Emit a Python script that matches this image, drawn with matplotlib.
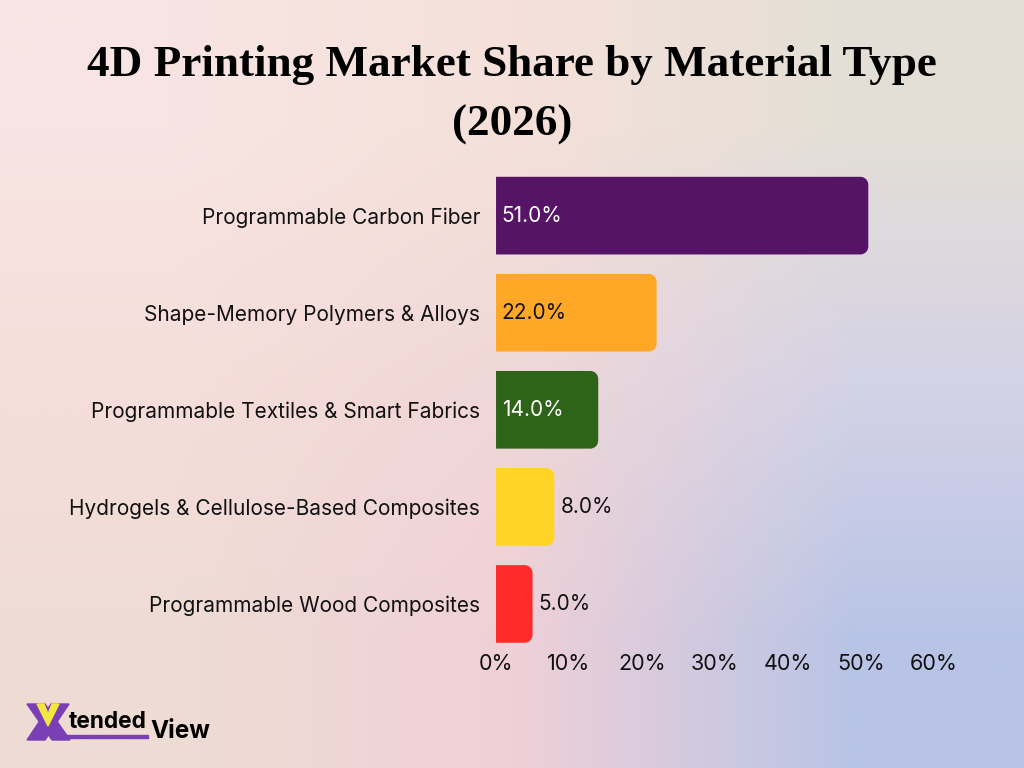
import numpy as np
import matplotlib
matplotlib.use('Agg')
import matplotlib.pyplot as plt
from matplotlib.patches import Rectangle, Polygon
from matplotlib.ticker import FuncFormatter

plt.rcParams['font.family'] = ['Inter', 'DejaVu Sans']

# Data
materials = [
    'Programmable Carbon Fiber',
    'Shape-Memory Polymers & Alloys',
    'Programmable Textiles & Smart Fabrics',
    'Hydrogels & Cellulose-Based Composites',
    'Programmable Wood Composites',
]
shares = [51.0, 22.0, 14.0, 8.0, 5.0]
bar_colors = ['#561466', '#FFA726', '#2E6418', '#FFD426', '#FF2A2A']
label_colors = ['white', '#111111', 'white', '#111111', '#111111']

fig = plt.figure(figsize=(10.24, 7.68), dpi=100)

# Background gradient (3x3 colours, bilinear)
grid = np.array([
    [[248, 229, 227], [245, 225, 218], [228, 223, 214]],
    [[246, 222, 218], [240, 215, 215], [212, 210, 230]],
    [[238, 220, 212], [240, 208, 215], [184, 196, 230]],
]) / 255.0
bg = fig.add_axes([0, 0, 1, 1], zorder=-10)
bg.imshow(grid, extent=[0, 1, 0, 1], aspect='auto', interpolation='bilinear', origin='upper')
bg.set_xlim(0, 1)
bg.set_ylim(0, 1)
bg.axis('off')

# Title
fig.text(0.5, 0.916, '4D Printing Market Share by Material Type', ha='center', va='center',
         fontsize=32.5, fontweight='bold', family='Liberation Serif', color='black')
fig.text(0.5, 0.838, '(2026)', ha='center', va='center',
         fontsize=32.5, fontweight='bold', family='Liberation Serif', color='black')

# Main chart
ax_w, ax_h = 0.4277, 0.632
ax = fig.add_axes([0.4844, 0.158, ax_w, ax_h])
ax.set_facecolor('none')
y = np.arange(len(materials))
bars = ax.barh(y, shares, height=0.8, color=bar_colors)
ax.set_xlim(0, 60)
ax.set_ylim(4.44, -0.56)

# rounded right ends
px_x = ax_w * 1024 / 60.0
px_y = ax_h * 768 / 5.0
rx, ry = 8 / px_x, 8 / px_y
t = np.linspace(0, np.pi / 2, 12)
for bar, c in zip(bars, bar_colors):
    x0, y0 = bar.get_x(), bar.get_y()
    x1, y1 = x0 + bar.get_width(), y0 + bar.get_height()
    bar.set_visible(False)
    top = np.column_stack([x1 - rx + rx * np.sin(t), y0 + ry - ry * np.cos(t)])
    bot = np.column_stack([x1 - rx + rx * np.cos(t), y1 - ry + ry * np.sin(t)])
    pts = np.vstack([[[x0, y0]], top, bot, [[x0, y1]]])
    ax.add_patch(Polygon(pts, closed=True, facecolor=c, edgecolor='none'))

for i, v in enumerate(shares):
    if v > 10:
        ax.text(0.8, i, f'{v:.1f}%', va='center', ha='left', fontsize=15, color=label_colors[i])
    else:
        ax.text(v + 0.8, i, f'{v:.1f}%', va='center', ha='left', fontsize=15, color='#111111')

ax.set_yticks(y)
ax.set_yticklabels(materials, fontsize=15, color='#111111')
ax.set_xticks(np.arange(0, 61, 10))
ax.xaxis.set_major_formatter(FuncFormatter(lambda v, p: f'{v:.0f}%'))
ax.tick_params(axis='x', labelsize=15.5, length=0, pad=5, colors='#111111')
ax.tick_params(axis='y', length=0, pad=11.5)
for s in ax.spines.values():
    s.set_visible(False)

# Logo
logo = fig.add_axes([0, 0, 1, 1], zorder=5)
logo.set_xlim(0, 1024)
logo.set_ylim(768, 0)
logo.axis('off')
purple = '#7B3FB5'
logo.add_patch(Polygon([[27, 704], [45, 704], [70, 740], [52, 740]], closed=True, color=purple))
logo.add_patch(Polygon([[51, 704], [69, 704], [45, 740], [27, 740]], closed=True, color=purple))
logo.add_patch(Polygon([[37, 704], [44, 704], [48, 714], [52, 704], [59, 704], [48, 726]],
                       closed=True, color='#F2E641'))
logo.add_patch(Rectangle((60, 735), 88, 3, color=purple))
logo.text(69, 728, 'tended', fontsize=16.3, fontweight='bold', color='black', va='baseline', ha='left')
logo.text(150, 738, 'View', fontsize=17.5, fontweight='bold', color='black', va='baseline', ha='left')

fig.savefig('out.png', dpi=100)
